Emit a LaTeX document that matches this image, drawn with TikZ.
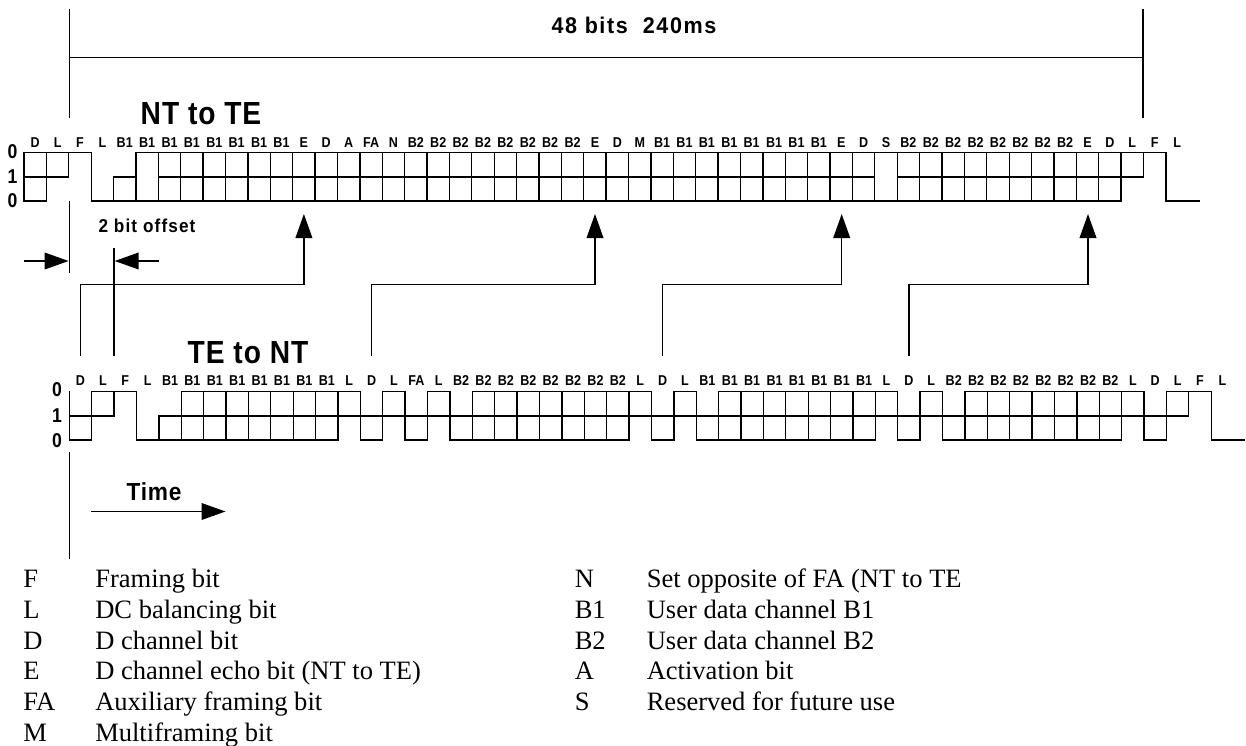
\documentclass[tikz,border=0pt]{standalone}
\usepackage{fontspec}
\usetikzlibrary{arrows.meta}
\setmainfont{Liberation Serif}
\newfontfamily\labc[FakeStretch=0.88]{Liberation Sans Bold}
\newfontfamily\labt[FakeStretch=0.88,LetterSpace=3]{Liberation Sans Bold}
\newfontfamily\labb[FakeStretch=0.95,LetterSpace=7]{Liberation Sans Bold}
\newfontfamily\labo[FakeStretch=0.92,LetterSpace=6]{Liberation Sans Bold}
\newfontfamily\labm[FakeStretch=0.92,LetterSpace=3]{Liberation Sans Bold}
\tikzset{
  wave/.style={line width=1pt,line cap=rect,black},
  wavebold/.style={line width=1.35pt,black},
  guide/.style={line width=1.15pt,black},
  flow/.style={line width=1.15pt,black,-{Triangle[length=18pt,width=12.5pt]}},
  cell/.style={inner sep=0pt,anchor=base,font=\labc\fontsize{10.7pt}{12pt}\selectfont},
  level/.style={inner sep=0pt,anchor=center,font=\labc\fontsize{15pt}{16pt}\selectfont},
  title/.style={inner sep=0pt,anchor=base,font=\labt\fontsize{24pt}{25pt}\selectfont},
  note/.style={inner sep=0pt,anchor=base},
  legend/.style={inner sep=0pt,anchor=base west,font=\fontsize{19.9pt}{20pt}\selectfont},
}
\begin{document}
\begin{tikzpicture}[x=0.75pt,y=-0.75pt]
\useasboundingbox (0,0) rectangle (1246,746);
% upper waveform
\begin{scope}[shift={(24,152.7)},x=16.7925pt,y=-18.15pt]
  \foreach \k in {0,1,3,5,6,...,49,51} \draw[wave] (\k,0) -- (\k,2);
  \draw[wave] (2,0) -- (2,1);
  \draw[wavebold] (50,0) -- (50,1);
  \draw[wave] (4,1) -- (4,2);
  \draw[wave] (0,0) -- (3,0) (5,0) -- (51,0);
  \draw[wave] (0,1) -- (2,1) (4,1) -- (5,1) (6,1) -- (38,1) (39,1) -- (50,1);
  \draw[wavebold] (23.4,1) -- (38,1) (48,1) -- (50,1);
  \draw[wave] (0,2) -- (1,2) (3,2) -- (49,2) (51,2) -- (52.48,2);
  \foreach \t [count=\i from 0] in {D,L,F,L,B1,B1,B1,B1,B1,B1,B1,B1,E,D,A,FA,N,B2,B2,B2,B2,B2,B2,B2,B2,E,D,M,B1,B1,B1,B1,B1,B1,B1,B1,E,D,S,B2,B2,B2,B2,B2,B2,B2,B2,E,D,L,F,L}
    \node[cell] (up\i) at (\i+.5,-.235) {\t};
\end{scope}
% lower waveform
\begin{scope}[shift={(69.3,391.7)},x=16.7925pt,y=-18.15pt]
  \foreach \k in {0,1,3,5,6,...,49,51} \draw[wave] (\k,0) -- (\k,2);
  \draw[wave] (2,0) -- (2,1) (50,0) -- (50,1) (4,1) -- (4,2);
  \draw[wave] (1,0) -- (3,0) (5,0) -- (13,0) (14,0) -- (15,0) (16,0) -- (17,0) (18,0) -- (26,0) (27,0) -- (28,0) (29,0) -- (37,0) (38,0) -- (39,0) (40,0) -- (48,0) (49,0) -- (51,0);
  \draw[wave] (0,1) -- (2,1) (4,1) -- (50,1);
  \draw[wave] (0,2) -- (1,2) (3,2) -- (12,2) (13,2) -- (14,2) (15,2) -- (16,2) (17,2) -- (25,2) (26,2) -- (27,2) (28,2) -- (36,2) (37,2) -- (38,2) (39,2) -- (47,2) (48,2) -- (49,2) (51,2) -- (52.5,2);
  \foreach \t [count=\i from 0] in {D,L,F,L,B1,B1,B1,B1,B1,B1,B1,B1,L,D,L,FA,L,B2,B2,B2,B2,B2,B2,B2,B2,L,D,L,B1,B1,B1,B1,B1,B1,B1,B1,L,D,L,B2,B2,B2,B2,B2,B2,B2,B2,L,D,L,F,L}
    \node[cell] (lo\i) at (\i+.5,-.27) {\t};
\end{scope}
% level labels
\node[level] (ua) at (12.5,152) {0};
\node[level] (ub) at (12.5,177) {1};
\node[level] (uc) at (12.5,201) {0};
\node[level] (la) at (57,390) {0};
\node[level] (lb) at (57,416) {1};
\node[level] (lc) at (57,441) {0};
% titles
\node[title] (nt) at (201,124) {NT to TE};
\node[title] (te) at (248,363) {TE to NT};
\node[note,font=\labb\fontsize{17pt}{18pt}\selectfont] (bits) at (634,33) {48 bits\ \ 240ms};
\node[note,font=\labo\fontsize{14pt}{15pt}\selectfont] (off) at (147,232) {2 bit offset};
\node[note,font=\labm\fontsize{18.5pt}{20pt}\selectfont] (time) at (154,500) {Time};
% guide lines
\coordinate (g1a) at (69.3,9); \coordinate (g1b) at (69.3,118);
\coordinate (g2a) at (1143,9); \coordinate (g2b) at (1143,118);
\coordinate (m1) at (69.3,57.5); \coordinate (m2) at (1143,57.5);
\coordinate (g3a) at (69.3,201); \coordinate (g3b) at (69.3,273);
\coordinate (g4a) at (114,248); \coordinate (g4b) at (114,356);
\coordinate (g5a) at (69.3,451.5); \coordinate (g5b) at (69.3,559);
\draw[guide] (g1a) -- (g1b);
\draw[guide] (g2a) -- (g2b);
\draw[guide] (m1) -- (m2);
\draw[guide] (g3a) -- (g3b);
\draw[guide] (g4a) -- (g4b);
\draw[guide] (g5a) -- (g5b);
% offset arrows
\coordinate (oa) at (24,261); \coordinate (ob) at (68.6,261);
\coordinate (oc) at (159,261); \coordinate (od) at (114.7,261);
\draw[flow] (oa) -- (ob);
\draw[flow] (oc) -- (od);
% echo arrows
\foreach \n/\xa/\xb in {1/80.5/303.9,2/371.6/595,3/662.4/841.7,4/908.9/1088}{
  \coordinate (s\n) at (\xa,356);
  \coordinate (t\n) at (\xb,214);
  \draw[flow] (s\n) |- (\xb,284.7) -- (t\n);
}
% time arrow
\coordinate (ta) at (91,511.5); \coordinate (tb) at (225.5,511.5);
\draw[flow] (ta) -- (tb);
% legend
\foreach \key/\txt [count=\i from 0] in {F/Framing bit,L/DC balancing bit,D/D channel bit,E/D channel echo bit (NT to TE),FA/Auxiliary framing bit,M/Multiframing bit}{
  \node[legend] (lk\i) at (23,587.5+30.8*\i) {\key};
  \node[legend] (lt\i) at (95,587.5+30.8*\i) {\txt};
}
\foreach \key/\txt [count=\i from 0] in {N/Set opposite of FA (NT to TE,B1/User data channel B1,B2/User data channel B2,A/Activation bit,S/Reserved for future use}{
  \node[legend] (rk\i) at (574.5,587.5+30.8*\i) {\key};
  \node[legend] (rt\i) at (646.5,587.5+30.8*\i) {\txt};
}
\end{tikzpicture}
\end{document}
